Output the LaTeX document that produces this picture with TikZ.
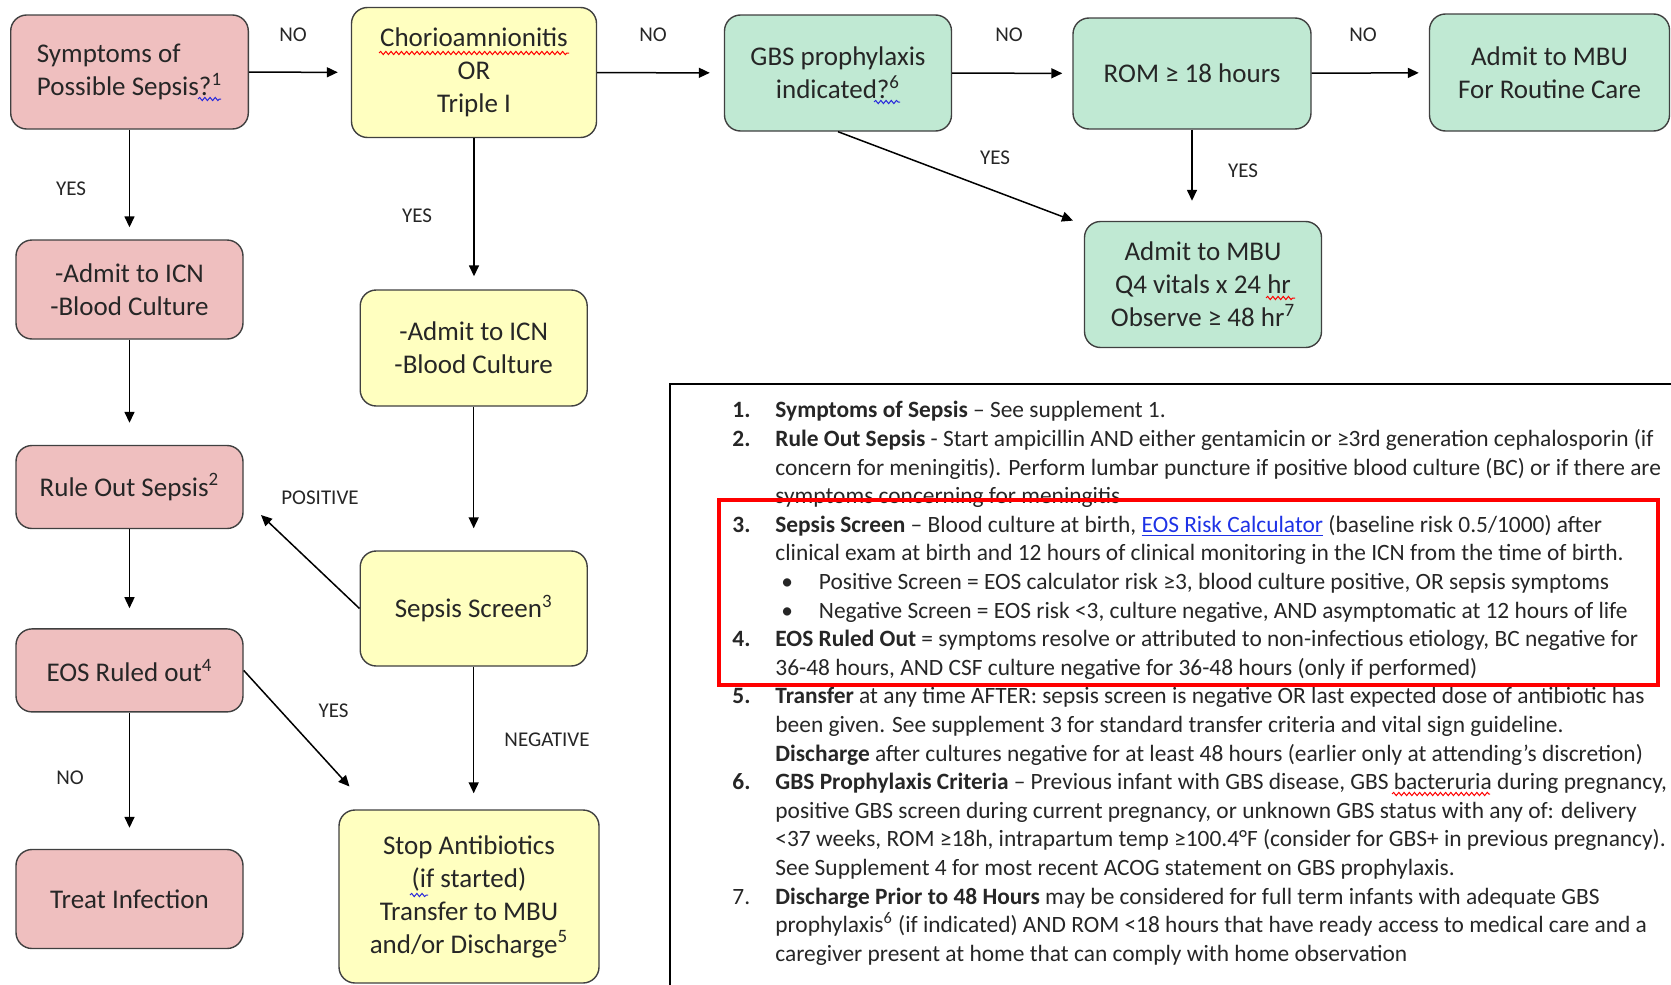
\documentclass[tikz,border=0pt]{standalone}
\usepackage{fontspec}
\setmainfont{Carlito}
\usetikzlibrary{arrows.meta,calc,decorations.pathmorphing}

\definecolor{pinkfill}{RGB}{239,191,191}
\definecolor{yellowfill}{RGB}{255,255,192}
\definecolor{greenfill}{RGB}{192,233,211}
\definecolor{linkblue}{RGB}{30,50,230}
\definecolor{waveblue}{RGB}{40,40,220}

\newcommand\boxfont{\fontsize{13.5}{16.5}\selectfont}
\newcommand\notefont{\fontsize{11.7}{14.3}\selectfont}
\newcommand\notenum[1]{\makebox[21.5pt][l]{#1}}
\newcommand\noteindent{\hspace*{21.5pt}}
\newcommand\notebullet{\hspace*{24.5pt}\makebox[18.75pt][l]{\textbullet}}

\begin{document}
\begin{tikzpicture}[x=0.5pt,y=-0.5pt,
    box/.style={draw=black!75, line width=0.7pt, rounded corners=8pt, align=center,
      font=\boxfont, text=black!85, inner sep=0pt},
    pinkbox/.style={box, fill=pinkfill},
    yellowbox/.style={box, fill=yellowfill},
    greenbox/.style={box, fill=greenfill},
    arr/.style={-{Triangle[length=5.5pt,width=5pt]}, line width=0.75pt},
    lbl/.style={font=\fontsize{10.5}{12}\selectfont, text=black!85},
    wave/.style={line width=0.5pt, decorate,
      decoration={snake, segment length=2.6pt, amplitude=0.8pt}}]
  \clip (0,0) rectangle (1671,985);

  % left column
  \node[pinkbox, minimum width=118.8pt, minimum height=57pt, align=left] (symptoms) at (129.5,72)
    {Symptoms of\\Possible Sepsis?\textsuperscript{1}};
  \node[pinkbox, minimum width=113.5pt, minimum height=49.5pt] (icnleft) at (129.5,289.5)
    {-Admit to ICN\\-Blood Culture};
  \node[pinkbox, minimum width=113.5pt, minimum height=41.5pt] (ruleout) at (129.5,487)
    {Rule Out Sepsis\textsuperscript{2}};
  \node[pinkbox, minimum width=113.5pt, minimum height=41.5pt] (eosout) at (129.5,670.4)
    {EOS Ruled out\textsuperscript{4}};
  \node[pinkbox, minimum width=113.5pt, minimum height=49.5pt] (treat) at (129.5,899)
    {Treat Infection};

  % middle column
  \node[yellowbox, minimum width=122.5pt, minimum height=65pt] (chorio) at (474,72.5)
    {Chorioamnionitis\\OR\\Triple I};
  \node[yellowbox, minimum width=113.5pt, minimum height=58pt] (icnmid) at (473.7,348)
    {-Admit to ICN\\-Blood Culture};
  \node[yellowbox, minimum width=113.5pt, minimum height=57.5pt] (screen) at (473.7,608.5)
    {Sepsis Screen\textsuperscript{3}};
  \node[yellowbox, minimum width=130pt, minimum height=86.5pt] (stop) at (469,896.5)
    {Stop Antibiotics\\(if started)\\Transfer to MBU\\and/or Discharge\textsuperscript{5}};

  % top row
  \node[greenbox, minimum width=113.5pt, minimum height=58pt] (gbs) at (838,73)
    {GBS prophylaxis\\indicated?\textsuperscript{6}};
  \node[greenbox, minimum width=119pt, minimum height=55.5pt] (rom) at (1192,73.5)
    {ROM ≥ 18 hours};
  \node[greenbox, minimum width=120pt, minimum height=58.5pt] (routine) at (1549.5,72.5)
    {Admit to MBU\\For Routine Care};
  \node[greenbox, minimum width=118.5pt, minimum height=63pt] (observe) at (1203,284.5)
    {Admit to MBU\\Q4 vitals x 24 hr\\Observe ≥ 48 hr\textsuperscript{7}};

  % spelling marks
  \draw[wave, red] (379,53) -- (569,53);
  \draw[wave, waveblue] (198,99) -- (221,99);
  \draw[wave, waveblue] (874,102) -- (900,102);
  \draw[wave, red] (1266,298) -- (1295,298);
  \draw[wave, waveblue] (410,895) -- (428,895);
  \draw[wave, red] (1392,794) -- (1490,794);

  \coordinate (postip) at (261,515);
  \coordinate (yestip) at (349.5,786.5);
  \coordinate (gbstip) at (1073,220.6);

  % connectors
  \draw[arr, shorten >=6.5pt] (symptoms) -- (chorio);
  \draw[arr, shorten >=7pt] (chorio) -- (gbs);
  \draw[arr, shorten >=5pt] (gbs) -- (rom);
  \draw[arr, shorten >=5pt] (rom) -- (routine);
  \draw[arr, shorten >=10pt] (rom) -- (rom |- observe.north);
  \draw[arr] (gbs.south) -- (gbstip);
  \draw[arr, shorten >=6pt] (symptoms) -- (icnleft);
  \draw[arr, shorten >=11pt] (icnleft) -- (ruleout);
  \draw[arr, shorten >=10pt] (ruleout) -- (eosout);
  \draw[arr, shorten >=10.5pt] (eosout) -- (treat);
  \draw[arr, shorten >=6.5pt] (chorio) -- (chorio |- icnmid.north);
  \draw[arr, shorten >=11pt] (icnmid) -- (icnmid |- screen.north);
  \draw[arr, shorten >=8pt] (screen) -- (screen |- stop.north);
  \draw[arr] (screen.west) -- (postip);
  \draw[arr] (eosout.east) -- (yestip);

  % labels
  \node[lbl] (no1) at (293,35) {NO};
  \node[lbl] (no2) at (653,35) {NO};
  \node[lbl] (no3) at (1009,35) {NO};
  \node[lbl] (no4) at (1363,35) {NO};
  \node[lbl] (yes1) at (71,189) {YES};
  \node[lbl] (yes2) at (417,216) {YES};
  \node[lbl] (yes3) at (995,158) {YES};
  \node[lbl] (yes4) at (1243,170.5) {YES};
  \node[lbl] (pos) at (320,497.7) {POSITIVE};
  \node[lbl] (yes5) at (333.6,711) {YES};
  \node[lbl] (no5) at (70,778) {NO};
  \node[lbl] (neg) at (547,739.6) {NEGATIVE};

  % notes
  \draw[line width=0.65pt] (670,384) rectangle (1700,1010);
  \node[anchor=north west, align=left, font=\notefont, text=black!85, inner sep=0pt] (notes) at (732,401) {%
    \notenum{\textbf{1.}}\textbf{Symptoms of Sepsis} – See supplement 1.\\
    \notenum{\textbf{2.}}\textbf{Rule Out Sepsis} - Start ampicillin AND either gentamicin or ≥3rd generation cephalosporin (if\\
    \noteindent concern for meningitis). Perform lumbar puncture if positive blood culture (BC) or if there are\\
    \noteindent symptoms concerning for meningitis\\
    \notenum{\textbf{3.}}\textbf{Sepsis Screen} – Blood culture at birth, \textcolor{linkblue}{\underline{EOS Risk Calculator}} (baseline risk 0.5/1000) after\\
    \noteindent clinical exam at birth and 12 hours of clinical monitoring in the ICN from the time of birth.\\
    \notebullet Positive Screen = EOS calculator risk ≥3, blood culture positive, OR sepsis symptoms\\
    \notebullet Negative Screen = EOS risk <3, culture negative, AND asymptomatic at 12 hours of life\\
    \notenum{\textbf{4.}}\textbf{EOS Ruled Out} = symptoms resolve or attributed to non-infectious etiology, BC negative for\\
    \noteindent 36-48 hours, AND CSF culture negative for 36-48 hours (only if performed)\\
    \notenum{\textbf{5.}}\textbf{Transfer} at any time AFTER: sepsis screen is negative OR last expected dose of antibiotic has\\
    \noteindent been given. See supplement 3 for standard transfer criteria and vital sign guideline.\\
    \noteindent\textbf{Discharge} after cultures negative for at least 48 hours (earlier only at attending’s discretion)\\
    \notenum{\textbf{6.}}\textbf{GBS Prophylaxis Criteria} – Previous infant with GBS disease, GBS bacteruria during pregnancy,\\
    \noteindent positive GBS screen during current pregnancy, or unknown GBS status with any of: delivery\\
    \noteindent <37 weeks, ROM ≥18h, intrapartum temp ≥100.4°F (consider for GBS+ in previous pregnancy).\\
    \noteindent See Supplement 4 for most recent ACOG statement on GBS prophylaxis.\\
    \notenum{7.}\textbf{Discharge Prior to 48 Hours} may be considered for full term infants with adequate GBS\\
    \noteindent prophylaxis\textsuperscript{6} (if indicated) AND ROM <18 hours that have ready access to medical care and a\\
    \noteindent caregiver present at home that can comply with home observation};
  \draw[red, line width=1.6pt] (719,500) rectangle (1658,685);
\end{tikzpicture}
\end{document}
